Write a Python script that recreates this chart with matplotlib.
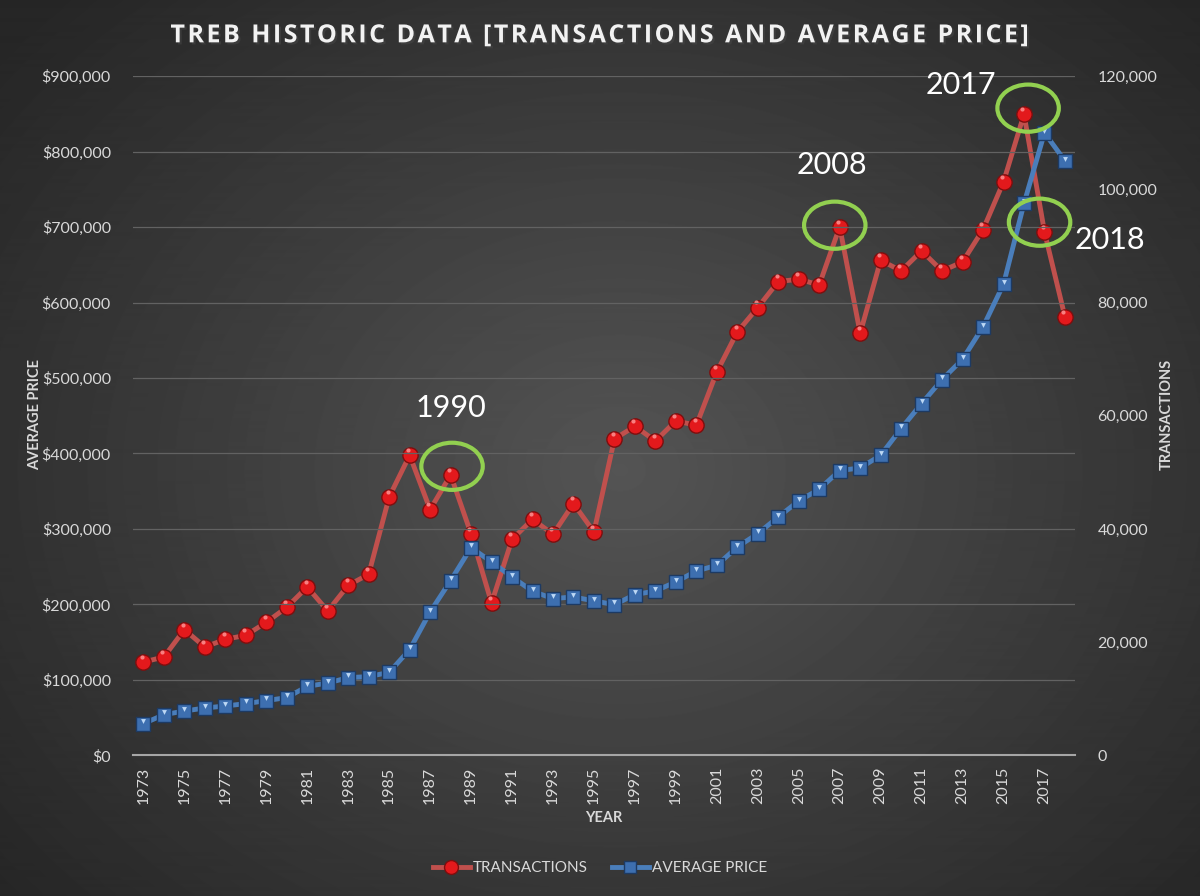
"""
TREB historic data: transactions and average price, 1973-2018
"""

import numpy as np
import matplotlib.pyplot as plt
from matplotlib.patches import Ellipse
from matplotlib.lines import Line2D
import matplotlib.patheffects as pe

plt.rcParams["font.family"] = ["Lato", "DejaVu Sans"]

years = list(range(1973, 2019))

transactions = [
    16490, 17370, 22210, 19140, 20500, 21210, 23500, 26160, 29750, 25500,
    30040, 31990, 45650, 53020, 43420, 49540, 39110, 26920, 38170, 41700,
    39060, 44480, 39470, 55900, 58140, 55550, 59080, 58320, 67740, 74810,
    79120, 83710, 84120, 83120, 93370, 74580, 87480, 85590, 89120, 85590,
    87180, 92900, 101320, 113280, 92480, 77460,
]

avg_price = [
    42000, 53900, 58700, 62700, 65400, 68500, 72500, 76500, 91460, 95800,
    103000, 104300, 110000, 140100, 190000, 231500, 275300, 256200, 236400, 217400,
    207700, 209900, 204600, 199700, 213000, 217800, 229800, 244300, 251800, 276100,
    293800, 315900, 337100, 352600, 377400, 380800, 397600, 433000, 466200, 497900,
    524900, 567700, 624300, 731300, 824900, 787800,
]

# highlighted years: label text, label position (index, price), ellipse centre (index, price)
callouts = [
    ("1990", (15.0, 460000), (15.07, 383000)),
    ("2008", (33.6, 782000), (33.76, 702500)),
    ("2017", (39.9, 888000), (43.2, 857600)),
    ("2018", (47.2, 682600), (43.76, 706500)),
]

title = "TREB HISTORIC DATA [TRANSACTIONS AND AVERAGE PRICE]"

txt_col = "#d9d9d9"
red_line = "#c0504d"
blue_line = "#4a7ebb"

fig = plt.figure(figsize=(12, 8.96), dpi=100)

# radial gradient background
bg = fig.add_axes([0, 0, 1, 1], zorder=-10)
yy, xx = np.mgrid[0:896, 0:1200]
r = np.sqrt(((xx - 620) / 760.0) ** 2 + ((yy - 470) / 620.0) ** 2)
shade = np.clip(0.33 - 0.17 * r, 0.15, 0.35)
bg.imshow(shade, cmap="gray", vmin=0, vmax=1, aspect="auto", extent=[0, 1, 0, 1])
bg.axis("off")

ax = fig.add_axes([0.111, 0.157, 0.785, 0.758])
ax.patch.set_alpha(0)
ax2 = ax.twinx()
ax2.patch.set_alpha(0)

x = np.arange(len(years))

ax2.plot(x, transactions, color=red_line, lw=3.5, marker="o", ms=11,
         mfc="#e3191c", mec="#7d0e0e", mew=1.0, zorder=3)
ax2.plot(x - 0.08, np.array(transactions) + 900, ls="none", marker="o", ms=3,
         mfc="#ff9a9a", mec="none", alpha=0.8, zorder=4)

ax.plot(x, avg_price, color=blue_line, lw=3.5, marker="s", ms=9.5,
        mfc="#3d6fb0", mec="#1d3a63", mew=1.0, zorder=5)
ax.plot(x, np.array(avg_price) + 3000, ls="none", marker="v", ms=3.5,
        mfc="#bcd8f5", mec="none", zorder=6)
ax.set_zorder(ax2.get_zorder() + 1)

ax.set_xlim(-0.5, len(years) - 0.5)
ax.set_ylim(0, 900000)
ax2.set_ylim(0, 120000)
ax.set_yticks(np.arange(0, 900001, 100000))
ax2.set_yticks(np.arange(0, 120001, 20000))
ax.set_yticklabels([f"${v:,.0f}" for v in np.arange(0, 900001, 100000)])
ax2.set_yticklabels([f"{v:,.0f}" for v in np.arange(0, 120001, 20000)])
ax.set_xticks(x[::2])
ax.set_xticklabels([str(y) for y in years[::2]], rotation=90)

for a in (ax, ax2):
    for s in a.spines.values():
        s.set_visible(False)
    a.tick_params(length=0, colors=txt_col, labelsize=11.5)
ax.tick_params(axis="x", pad=8)
ax.tick_params(axis="y", pad=16)
ax2.tick_params(axis="y", pad=16)
ax.spines["bottom"].set_visible(True)
ax.spines["bottom"].set_color("#a6a6a6")
ax.spines["bottom"].set_linewidth(1.5)
ax.grid(axis="y", color="#626262", lw=0.9)
ax.set_axisbelow(True)

for label, (tx, ty), (cx, cy) in callouts:
    ax.text(tx, ty, label, fontsize=22, color="white", ha="center", va="center",
            clip_on=False, zorder=8)
    ax.add_patch(Ellipse((cx, cy), 3.0, 62500, fill=False, ec="#92d050",
                         lw=3, zorder=7, clip_on=False))

# letter-spaced title
fig.text(0.5, 0.960, "\u200a".join(title), ha="center", va="center",
         fontsize=18, fontweight="bold", color="#f2f2f2",
         family=["Open Sans", "DejaVu Sans"],
         path_effects=[pe.withSimplePatchShadow(offset=(1.5, -1.5), alpha=0.5)])
fig.text(0.029, 0.537, "AVERAGE PRICE", rotation=90, ha="center", va="center",
         fontsize=10.5, fontweight="bold", color=txt_col)
fig.text(0.9725, 0.537, "TRANSACTIONS", rotation=90, ha="center", va="center",
         fontsize=10.5, fontweight="bold", color=txt_col)
fig.text(0.503, 0.087, "YEAR", ha="center", va="center",
         fontsize=10.5, fontweight="bold", color=txt_col)

handles = [
    Line2D([], [], color=red_line, lw=3.5, marker="o", ms=10, mfc="#e3191c", mec="#7d0e0e"),
    Line2D([], [], color=blue_line, lw=3.5, marker="s", ms=9, mfc="#3d6fb0", mec="#1d3a63"),
]
fig.legend(handles, ["TRANSACTIONS", "AVERAGE PRICE"], loc="center",
           bbox_to_anchor=(0.5, 0.031), ncol=2, frameon=False, fontsize=11,
           labelcolor=txt_col, handlelength=2.4, columnspacing=1.6, handletextpad=0.2)

plt.savefig("out.png", dpi=100)
